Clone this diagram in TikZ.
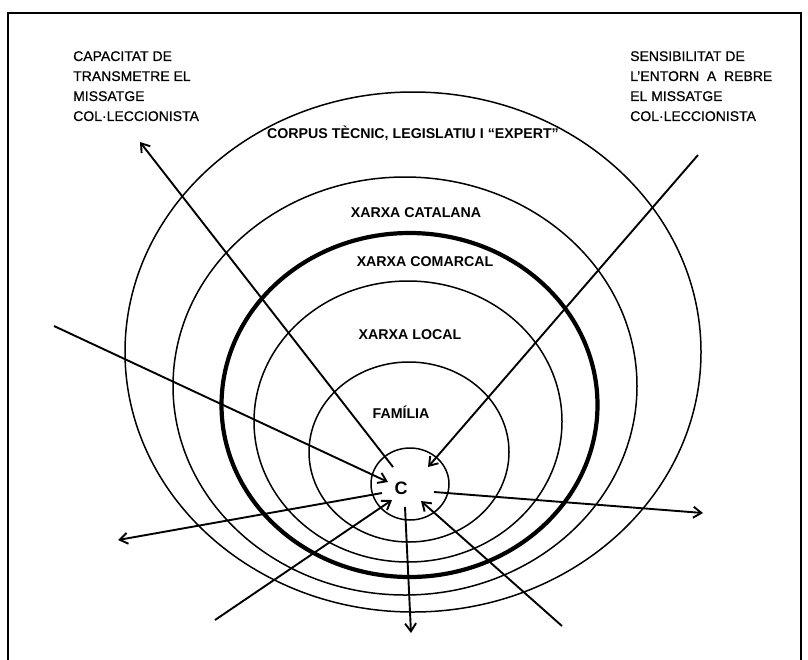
\documentclass[tikz,border=0pt]{standalone}
\usepackage{fontspec}
\setmainfont{Liberation Sans}
\newfontfamily\cornerfont{Liberation Sans}[FakeBold=0.6]
\usetikzlibrary{arrows.meta}
\begin{document}
\begin{tikzpicture}[x=1pt,y=-1pt,
  ring/.style={line width=1.5pt},
  thickring/.style={line width=4.2pt},
  arr/.style={line width=1.9pt,-{Straight Barb[length=8pt,width=11pt]}},
  lbl/.style={font=\fontsize{14.2}{16}\selectfont\bfseries, inner sep=0, anchor=base},
  corner/.style={font=\fontsize{14}{20}\selectfont\cornerfont, align=left, anchor=north west, inner sep=0}]
\useasboundingbox (0,0) rectangle (808,659);
\draw[line width=1.2pt] (8,670) -- (8,13) -- (801,13) -- (801,670);
% rings
\draw[ring] (413,352) ellipse [x radius=288, y radius=260];
\draw[ring] (405,386) ellipse [x radius=232, y radius=209];
\draw[thickring] (409.5,405) ellipse [x radius=188, y radius=172];
\draw[ring] (408,421.5) ellipse [x radius=154, y radius=140.5];
\draw[ring] (409,452) ellipse [x radius=100, y radius=90];
\draw[ring] (410,484) ellipse [x radius=39, y radius=36];
% labels
\node[corner] (capacitat) at (73,51) {CAPACITAT DE\\TRANSMETRE EL\\MISSATGE\\COL·LECCIONISTA};
\node[corner] (sensibilitat) at (630,51) {SENSIBILITAT DE\\L’ENTORN \ A \ REBRE\\EL MISSATGE\\COL·LECCIONISTA};
\node[lbl] (corpus) at (413,138) {CORPUS TÈCNIC, LEGISLATIU I “EXPERT”};
\node[lbl] (catalana) at (416,217) {XARXA CATALANA};
\node[lbl] (comarcal) at (425,266) {XARXA COMARCAL};
\node[lbl] (local) at (410,339) {XARXA LOCAL};
\node[lbl] (familia) at (401,418) {FAMÍLIA};
\node[lbl, font=\fontsize{18}{20}\selectfont\bfseries] (C) at (401,494.5) {C};
% arrow ends
\coordinate (o1s) at (393,467); \coordinate (o1e) at (140,142);
\coordinate (i2s) at (698,155); \coordinate (i2e) at (428,467);
\coordinate (i3s) at (54,326);  \coordinate (i3e) at (388,482);
\coordinate (o4s) at (382,493); \coordinate (o4e) at (118,540);
\coordinate (o5s) at (434,492); \coordinate (o5e) at (703,513);
\coordinate (i6s) at (215,620); \coordinate (i6e) at (392,500);
\coordinate (o7s) at (405,507); \coordinate (o7e) at (411,633);
\coordinate (i8s) at (562,626); \coordinate (i8e) at (421,501);
\draw[arr] (o1s) -- (o1e);
\draw[arr] (i2s) -- (i2e);
\draw[arr] (i3s) -- (i3e);
\draw[arr] (o4s) -- (o4e);
\draw[arr] (o5s) -- (o5e);
\draw[arr] (i6s) -- (i6e);
\draw[arr] (o7s) -- (o7e);
\draw[arr] (i8s) -- (i8e);
\end{tikzpicture}
\end{document}
